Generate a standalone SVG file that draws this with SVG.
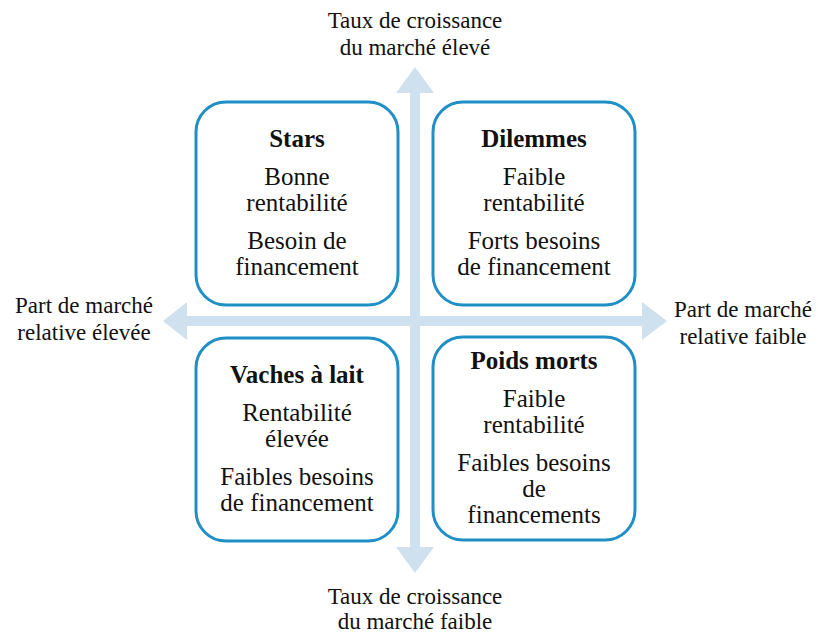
<svg xmlns="http://www.w3.org/2000/svg" width="818" height="635" viewBox="0 0 818 635">
  <style>
    .box { fill: #ffffff; stroke: #1f8fc5; stroke-width: 3; }
    .arrow { fill: #cfe0ef; stroke: none; }
    text { font-family: "Liberation Serif", "Times New Roman", serif; fill: #111111; text-anchor: middle; }
    .t { font-size: 25px; font-weight: bold; }
    .b { font-size: 25px; }
    .ax { font-size: 23px; }
  </style>
  <rect width="818" height="635" fill="#ffffff"/>
  <g id="connectors">
    <polygon class="arrow" points="410,93 396,93 415,67 434,93 420,93 420,547 434,547 415,573 396,547 410,547"/>
    <polygon class="arrow" points="187,316 187,302 163,321 187,340 187,326 642,326 642,340 667,321 642,302 642,316"/>
  </g>
  <g id="axis-top">
    <text class="ax" x="415" y="28">Taux de croissance</text>
    <text class="ax" x="415" y="55">du marché élevé</text>
  </g>
  <g id="axis-bottom">
    <text class="ax" x="415" y="604">Taux de croissance</text>
    <text class="ax" x="415" y="629">du marché faible</text>
  </g>
  <g id="axis-left">
    <text class="ax" x="84" y="313">Part de marché</text>
    <text class="ax" x="84" y="340">relative élevée</text>
  </g>
  <g id="axis-right">
    <text class="ax" x="743" y="317">Part de marché</text>
    <text class="ax" x="743" y="344">relative faible</text>
  </g>
  <g id="stars">
    <rect class="box" x="196" y="102" width="202" height="203" rx="30"/>
    <text class="t" x="297" y="147">Stars</text>
    <text class="b" x="297" y="185">Bonne</text>
    <text class="b" x="297" y="211">rentabilité</text>
    <text class="b" x="297" y="249">Besoin de</text>
    <text class="b" x="297" y="275">financement</text>
  </g>
  <g id="dilemmes">
    <rect class="box" x="433" y="102" width="202" height="203" rx="30"/>
    <text class="t" x="534" y="147">Dilemmes</text>
    <text class="b" x="534" y="185">Faible</text>
    <text class="b" x="534" y="211">rentabilité</text>
    <text class="b" x="534" y="249">Forts besoins</text>
    <text class="b" x="534" y="275">de financement</text>
  </g>
  <g id="vaches">
    <rect class="box" x="196" y="338" width="202" height="203" rx="30"/>
    <text class="t" x="297" y="383">Vaches à lait</text>
    <text class="b" x="297" y="421">Rentabilité</text>
    <text class="b" x="297" y="447">élevée</text>
    <text class="b" x="297" y="485">Faibles besoins</text>
    <text class="b" x="297" y="511">de financement</text>
  </g>
  <g id="poids-morts">
    <rect class="box" x="433" y="337" width="202" height="203" rx="30"/>
    <text class="t" x="534" y="369">Poids morts</text>
    <text class="b" x="534" y="407">Faible</text>
    <text class="b" x="534" y="433">rentabilité</text>
    <text class="b" x="534" y="471">Faibles besoins</text>
    <text class="b" x="534" y="497">de</text>
    <text class="b" x="534" y="523">financements</text>
  </g>
</svg>
